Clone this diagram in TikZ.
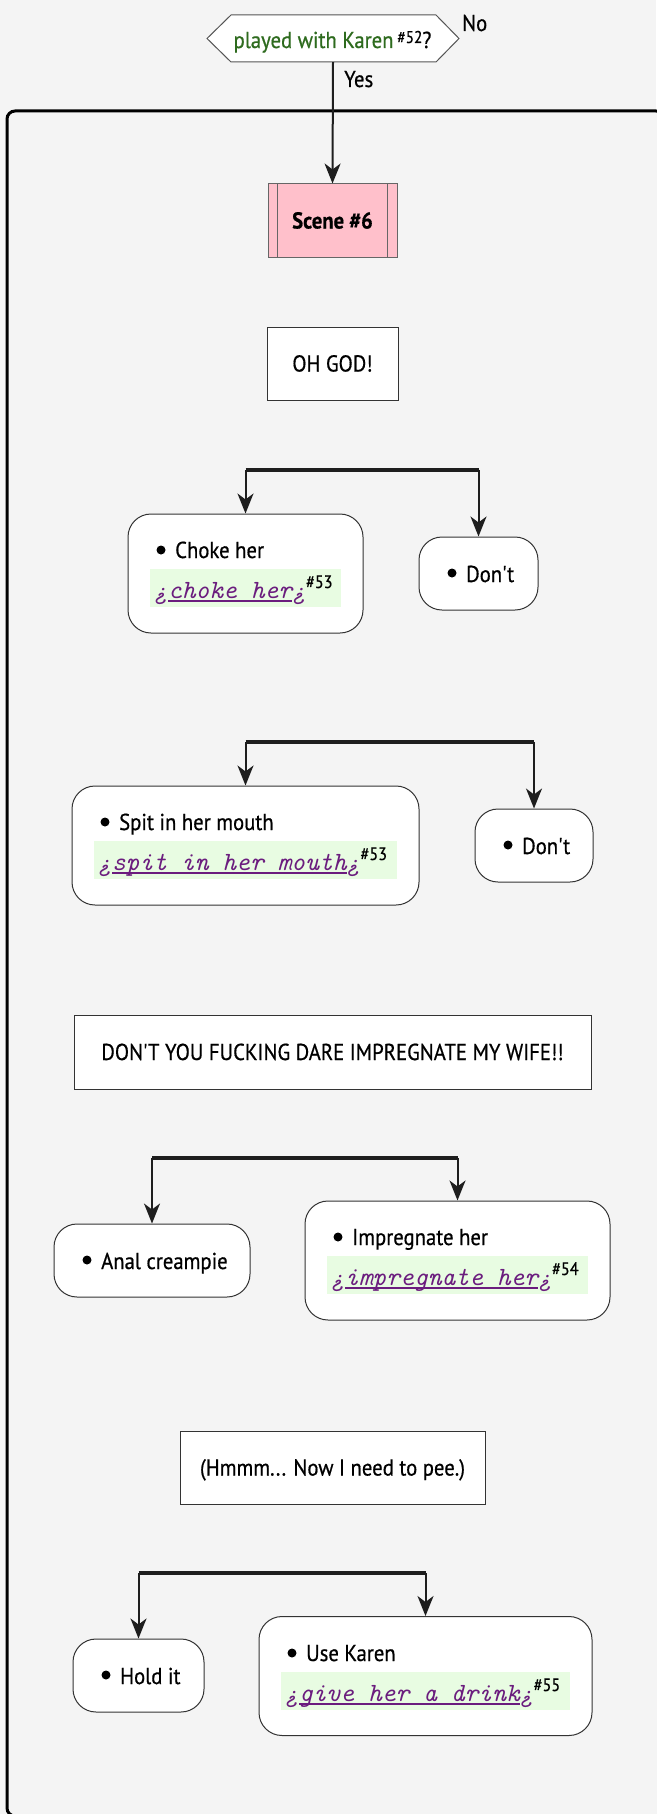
\documentclass[tikz,border=0pt]{standalone}
\usepackage{fontspec}
\setmainfont{PT Sans}[FakeStretch=0.9, FakeBold=0.6]
\usetikzlibrary{arrows.meta}
\definecolor{bgc}{HTML}{F4F4F4}
\definecolor{bd}{HTML}{333333}
\definecolor{hexb}{HTML}{555555}
\definecolor{arrc}{HTML}{1E1E1E}
\definecolor{lk}{HTML}{6B1D7E}
\definecolor{stripc}{HTML}{E8FCE2}
\definecolor{qgreen}{HTML}{2E6B1E}
\definecolor{scenepink}{HTML}{FFC0CB}
\definecolor{scb}{HTML}{666666}
\newcommand{\ulk}[1]{\setbox0=\hbox{#1}\rlap{\rule[-4pt]{\wd0}{1.8pt}}\box0}
\newcommand{\lnk}[2]{{\color{lk}\ttfamily\itshape ¿\ulk{#1}¿}\raisebox{10pt}{\fontsize{18}{18}\selectfont\#{}#2}}
\newcommand{\monosize}{\fontsize{26.3}{28}\selectfont}
\newcommand{\apo}{\textquotesingle}
\begin{document}
\begin{tikzpicture}[x=1pt,y=-1pt,
  every node/.style={inner sep=0pt, font=\fontsize{23}{26}\selectfont},
  arr/.style={draw=arrc, line width=2pt, -{Stealth[length=20pt,width=16pt,inset=6pt]}},
  bar/.style={draw=arrc, line width=3.3pt},
  rectbox/.style={draw=bd, fill=white, line width=1pt, text height=16pt, text depth=0pt},
  choice/.style={draw=bd, fill=white, line width=1pt, rounded corners=23pt},
  strip/.style={fill=stripc},
  dot/.style={fill=black}]
\fill[bgc] (0,0) rectangle (656,1814);
\useasboundingbox (0,0) rectangle (656,1814);
\draw[line width=3pt, rounded corners=8pt, fill=bgc] (7,111) rectangle (664,1816);

% question
\node[minimum width=252pt, minimum height=47pt] (q) at (333,38.5) {};
\draw[draw=hexb, fill=white, line width=1pt] (207,38.5) -- (231,15) -- (436,15) -- (459,38.5) -- (436,62) -- (231,62) -- cycle;
\node[anchor=base] (qt) at (332.5,48) {\color{qgreen}played with Karen\,\raisebox{5pt}{\fontsize{17}{17}\selectfont\color{black}\#52}\color{black}?};
\node[anchor=base west] (no) at (462,31) {No};
\node[anchor=base west] (yes) at (344,87) {Yes};

% scene
\node[draw=scb, fill=scenepink, line width=1pt, minimum width=129pt, minimum height=73pt, text height=16pt, text depth=0pt] (scene) at (332.5,220.5) {\bfseries Scene \#6};
\draw[scb, line width=1pt] ([xshift=10pt]scene.north west) -- ([xshift=10pt]scene.south west);
\draw[scb, line width=1pt] ([xshift=-10pt]scene.north east) -- ([xshift=-10pt]scene.south east);
\draw[arr] (q.south) -- (scene.north);

\node[rectbox, minimum width=131pt, minimum height=73pt] (oh) at (332.5,363.5) {OH GOD!};

% branch 1
\coordinate (b1l) at (245.5,470);
\coordinate (b1r) at (478.5,470);
\node[choice, minimum width=235pt, minimum height=119pt] (c1) at (245.5,573.5) {};
\node[choice, minimum width=119pt, minimum height=73pt] (d1) at (478.5,573.5) {};
\draw[bar] (b1l) -- (b1r);
\draw[arr] (b1l) -- (c1.north);
\draw[arr] (b1r) -- (d1.north);
\fill[dot] (161,550) circle (4.5);
\node[anchor=base west] (c1a) at (175,558) {Choke her};
\node[strip, minimum width=191pt, minimum height=38pt, anchor=north west] (c1s) at (150,569) {};
\node[anchor=base west, font=\monosize] (c1l) at (154,598) {\lnk{choke her}{53}};
\fill[dot] (452,573) circle (4.5);
\node[anchor=base west] (d1a) at (466,582) {Don\apo t};

% branch 2
\coordinate (b2l) at (245.5,742);
\coordinate (b2r) at (534,742);
\node[choice, minimum width=347pt, minimum height=119pt] (c2) at (245.5,845.5) {};
\node[choice, minimum width=118pt, minimum height=73pt] (d2) at (534,845.5) {};
\draw[bar] (b2l) -- (b2r);
\draw[arr] (b2l) -- (c2.north);
\draw[arr] (b2r) -- (d2.north);
\fill[dot] (105,822) circle (4.5);
\node[anchor=base west] (c2a) at (119,830) {Spit in her mouth};
\node[strip, minimum width=303pt, minimum height=38pt, anchor=north west] (c2s) at (94,841) {};
\node[anchor=base west, font=\monosize] (c2l) at (98,870) {\lnk{spit in her mouth}{53}};
\fill[dot] (508,845) circle (4.5);
\node[anchor=base west] (d2a) at (522,854) {Don\apo t};

\node[rectbox, minimum width=517pt, minimum height=74pt] (dare) at (332.5,1052) {DON\apo T YOU FUCKING DARE IMPREGNATE MY WIFE!!};

% branch 3
\coordinate (b3l) at (152,1158);
\coordinate (b3r) at (457.5,1158);
\node[choice, minimum width=196pt, minimum height=73pt] (an) at (152,1260.5) {};
\node[choice, minimum width=305pt, minimum height=119pt] (im) at (457.5,1260.5) {};
\draw[bar] (b3l) -- (b3r);
\draw[arr] (b3l) -- (an.north);
\draw[arr] (b3r) -- (im.north);
\fill[dot] (87,1260) circle (4.5);
\node[anchor=base west] (ana) at (101,1269) {Anal creampie};
\fill[dot] (338,1237) circle (4.5);
\node[anchor=base west] (ima) at (352,1245) {Impregnate her};
\node[strip, minimum width=261pt, minimum height=38pt, anchor=north west] (ims) at (327,1256) {};
\node[anchor=base west, font=\monosize] (iml) at (331,1285) {\lnk{impregnate her}{54}};

\node[rectbox, minimum width=305pt, minimum height=73pt] (pee) at (332.5,1467.5) {(Hmmm... Now I need to pee.)};

% branch 4
\coordinate (b4l) at (138.5,1573);
\coordinate (b4r) at (425.5,1573);
\node[choice, minimum width=131pt, minimum height=73pt] (ho) at (138.5,1675.5) {};
\node[choice, minimum width=333pt, minimum height=119pt] (uk) at (425.5,1676) {};
\draw[bar] (b4l) -- (b4r);
\draw[arr] (b4l) -- (ho.north);
\draw[arr] (b4r) -- (uk.north);
\fill[dot] (106,1675) circle (4.5);
\node[anchor=base west] (hoa) at (120,1684) {Hold it};
\fill[dot] (292,1653) circle (4.5);
\node[anchor=base west] (uka) at (306,1661) {Use Karen};
\node[strip, minimum width=289pt, minimum height=38pt, anchor=north west] (uks) at (281,1672) {};
\node[anchor=base west, font=\monosize] (ukl) at (285,1701) {\lnk{give her a drink}{55}};
\end{tikzpicture}
\end{document}
